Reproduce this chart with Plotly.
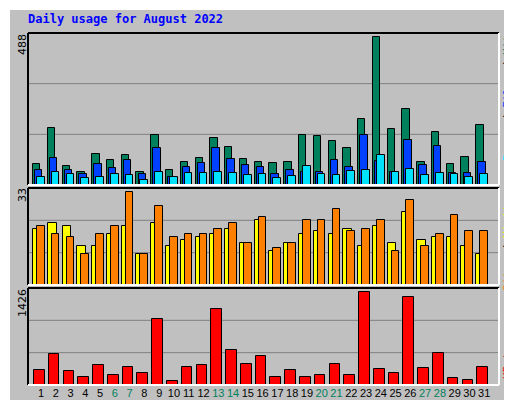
import plotly.graph_objects as go

days = list(range(1, 32))
hits = [68,188,62,44,102,82,98,44,165,49,75,88,155,125,85,77,72,75,165,161,145,121,217,488,184,251,75,174,68,92,198]
files = [51,88,51,38,68,55,82,35,121,26,61,72,121,85,65,61,35,49,44,44,82,59,165,78,44,148,65,128,39,39,75]
pages = [28,44,35,24,28,35,32,18,42,28,39,39,44,39,32,38,22,29,62,35,32,45,49,98,44,52,32,39,35,25,35]
sites = [20,22,21,14,14,18,21,11,22,14,16,17,18,20,15,23,12,15,18,19,18,20,14,21,15,26,16,17,17,14,11]
visits = [21,18,17,11,18,21,33,11,28,17,18,18,20,22,15,24,13,15,23,23,27,19,20,23,12,30,14,18,25,19,19]
kbytes = [224,474,208,130,302,161,271,177,1020,68,271,302,1160,536,317,442,130,224,130,146,317,161,1426,239,177,1347,255,489,114,83,271]
weekend = [6,7,13,14,20,21,27,28]
title = "Daily usage for August 2022"
max_hits, max_visits, max_kb = 488, 33, 1426

ticktext = [f"<span style='color:#00805C'>{d}</span>" if d in weekend else str(d) for d in days]
line = dict(color="black", width=1)
fig = go.Figure()
def bar(y, color, off, w, ya):
    fig.add_trace(go.Bar(x=days, y=y, marker=dict(color=color, line=line), offset=off, width=w,
                         yaxis=ya, xaxis="x" if ya == "y" else ("x2" if ya == "y2" else "x3"),
                         showlegend=False, hoverinfo="skip"))
bar(hits, "#00805C", -0.54, 0.5, "y")
bar(files, "#0040FF", -0.40, 0.5, "y")
bar(pages, "#00E0FF", -0.27, 0.52, "y")
bar(sites, "#FFFF00", -0.54, 0.6, "y2")
bar(visits, "#FF8000", -0.27, 0.52, "y2")
bar(kbytes, "#FF0000", -0.47, 0.72, "y3")

xd = [20/512, 491/512]
doms = {"y": [1-177/400, 1-25/400], "y2": [1-277/400, 1-180/400], "y3": [1-377/400, 1-280/400]}
rng = {"y": 502.5, "y2": 34.4, "y3": 1488}
ax = dict(showgrid=False, zeroline=False, showticklabels=False, ticks="", showline=False)
fig.update_layout(
    width=512, height=400, margin=dict(l=0, r=0, t=0, b=0),
    paper_bgcolor="#C0C0C0", plot_bgcolor="#C0C0C0", barmode="overlay", bargap=0,
    font=dict(family="DejaVu Sans", size=11, color="black"),
    xaxis=dict(ax, domain=xd, range=[0.12, 32.0], anchor="y"),
    xaxis2=dict(ax, domain=xd, range=[0.12, 32.0], anchor="y2", matches="x"),
    xaxis3=dict(domain=xd, range=[0.12, 32.0], anchor="y3", matches="x", tickvals=days, ticktext=ticktext,
                showgrid=False, zeroline=False, showline=False, ticks="", ticklen=0,
                tickfont=dict(family="Liberation Sans", size=11), tickangle=0),
    yaxis=dict(ax, domain=doms["y"], range=[0, rng["y"]], anchor="x"),
    yaxis2=dict(ax, domain=doms["y2"], range=[0, rng["y2"]], anchor="x2"),
    yaxis3=dict(ax, domain=doms["y3"], range=[0, rng["y3"]], anchor="x3"),
)
shapes = []
for ya, xa in (("y", "x"), ("y2", "x2"), ("y3", "x3")):
    for f in (1/3, 2/3):
        shapes.append(dict(type="line", xref=f"{xa} domain", yref=f"{ya} domain", x0=0, x1=1, y0=f, y1=f,
                           line=dict(color="#808080", width=1), layer="below"))
    shapes.append(dict(type="line", xref=f"{xa} domain", yref=f"{ya} domain", x0=0, x1=0, y0=0, y1=1, line=dict(color="black", width=2)))
    shapes.append(dict(type="line", xref=f"{xa} domain", yref=f"{ya} domain", x0=0, x1=1, y0=1, y1=1, line=dict(color="black", width=2)))
    shapes.append(dict(type="line", xref=f"{xa} domain", yref=f"{ya} domain", x0=1, x1=1, y0=0, y1=1, line=dict(color="white", width=2)))
    shapes.append(dict(type="line", xref=f"{xa} domain", yref=f"{ya} domain", x0=0, x1=1, y0=0, y1=0, line=dict(color="white", width=2)))
shapes += [
    dict(type="rect", xref="paper", yref="paper", x0=506/512, x1=1, y0=0, y1=1, fillcolor="#808080", line=dict(width=0), layer="below"),
    dict(type="rect", xref="paper", yref="paper", x0=0, x1=1, y0=0, y1=6/400, fillcolor="#808080", line=dict(width=0), layer="below"),
    dict(type="line", xref="paper", yref="paper", x0=1/512, x1=1/512, y0=0, y1=1, line=dict(color="white", width=2), layer="below"),
    dict(type="line", xref="paper", yref="paper", x0=0, x1=1, y0=399/400, y1=399/400, line=dict(color="white", width=2), layer="below"),
]
fig.update_layout(shapes=shapes)
mono = "DejaVu Sans Mono"
def vtext(text, xpx, ypx_center, size=11, family=None):
    return dict(text=text, x=xpx/512, y=1-ypx_center/400, xref="paper", yref="paper", xanchor="center", yanchor="middle",
                textangle=-90, showarrow=False, font=dict(family=family or "DejaVu Sans", size=size))
ann = [
    dict(text=f"<b>{title}</b>", x=18/512, y=1-11/400, xref="paper", yref="paper", xanchor="left", yanchor="middle",
         showarrow=False, font=dict(family=mono, size=12, color="#0000FF")),
    vtext(str(max_hits), 14, 37),
    vtext(str(max_visits), 14, 187),
    vtext(str(max_kb), 14, 295),
    vtext("<span style='color:#00E0FF'>Pages</span> / <span style='color:#0040FF'>Files</span> / <span style='color:#00805C'>Hits</span>",
          499, 87, family=mono),
    vtext("<span style='color:#FF8000'>Sites</span> / <span style='color:#FFFF00'>Visits</span>", 499, 237, family=mono),
    vtext("<span style='color:#FF0000'>KBytes</span>", 499, 351, family=mono),
]
fig.update_layout(annotations=ann)
fig.write_html("out.html")
